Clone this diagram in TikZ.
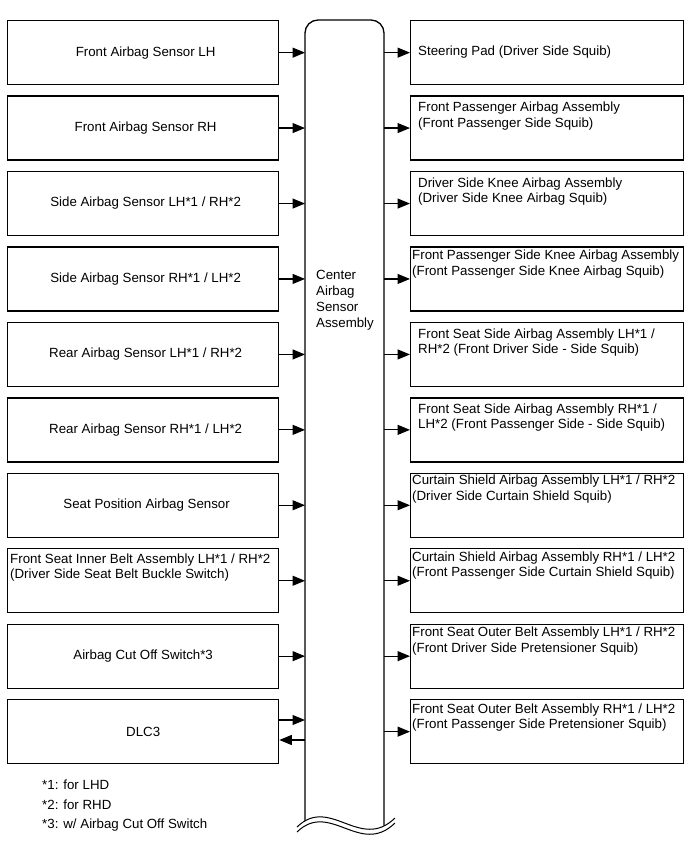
\documentclass[tikz,border=0pt]{standalone}
\usepackage{fontspec}
\setmainfont{Liberation Sans}
\usetikzlibrary{arrows.meta,calc}
\newcommand{\firstl}{\rule{0pt}{10pt}}
\begin{document}
\begin{tikzpicture}[x=1pt,y=-1pt,
  txt/.style={font=\fontsize{13.3}{15.5}\selectfont},
  box/.style={draw,line width=1.3pt,rectangle,minimum width=271pt,minimum height=64pt,inner sep=0pt,anchor=north west,txt},
  rbox/.style={box,minimum width=273pt},
  rtext/.style={anchor=north west,inner sep=0pt,align=left,txt},
  conn/.style={line width=1.2pt,-{Triangle[length=12.5pt,width=10pt]}},
]
\useasboundingbox[fill=white] (0,0) rectangle (690,854);

% left boxes
\node[box] (l1) at (7,20) {\hspace{5pt}Front Airbag Sensor LH};
\node[box] (l2) at (7,95.4) {\hspace{5pt}Front Airbag Sensor RH};
\node[box] (l3) at (7,170.9) {\hspace{5pt}Side Airbag Sensor LH*1 / RH*2};
\node[box] (l4) at (7,246.3) {\hspace{5pt}Side Airbag Sensor RH*1 / LH*2};
\node[box] (l5) at (7,321.8) {\hspace{5pt}Rear Airbag Sensor LH*1 / RH*2};
\node[box] (l6) at (7,397.2) {\hspace{5pt}Rear Airbag Sensor RH*1 / LH*2};
\node[box] (l7) at (7,472.6) {\hspace{7pt}Seat Position Airbag Sensor};
\node[box] (l8) at (7,548.1) {};
\node[rtext] (l8t) at (10,553.1) {\firstl Front Seat Inner Belt Assembly LH*1 / RH*2\\(Driver Side Seat Belt Buckle Switch)};
\node[box] (l9) at (7,623.5) {Airbag Cut Off Switch*3\hspace{27pt}};
\node[box] (l10) at (7,699) {DLC3\hspace{11pt}};

% right boxes
\node[rbox] (r1) at (410,20) {};
\node[rbox] (r2) at (410,95.4) {};
\node[rbox] (r3) at (410,170.9) {};
\node[rbox] (r4) at (410,246.3) {};
\node[rbox] (r5) at (410,321.8) {};
\node[rbox] (r6) at (410,397.2) {};
\node[rbox] (r7) at (410,472.6) {};
\node[rbox] (r8) at (410,548.1) {};
\node[rbox] (r9) at (410,623.5) {};
\node[rbox] (r10) at (410,699) {};

\node[txt,anchor=west,inner sep=0pt] (r1t) at (418,52) {Steering Pad (Driver Side Squib)};
\node[rtext] (r2t) at (418,101.4) {\firstl Front Passenger Airbag Assembly\\(Front Passenger Side Squib)};
\node[rtext] (r3t) at (418,176.9) {\firstl Driver Side Knee Airbag Assembly\\(Driver Side Knee Airbag Squib)};
\node[rtext] (r4t) at (412,249.3) {\firstl Front Passenger Side Knee Airbag Assembly\\(Front Passenger Side Knee Airbag Squib)};
\node[rtext] (r5t) at (418,327.8) {\firstl Front Seat Side Airbag Assembly LH*1 /\\RH*2 (Front Driver Side - Side Squib)};
\node[rtext] (r6t) at (418,403.2) {\firstl Front Seat Side Airbag Assembly RH*1 /\\LH*2 (Front Passenger Side - Side Squib)};
\node[rtext] (r7t) at (412,474.6) {\firstl Curtain Shield Airbag Assembly LH*1 / RH*2\\(Driver Side Curtain Shield Squib)};
\node[rtext] (r8t) at (412,551.1) {\firstl Curtain Shield Airbag Assembly RH*1 / LH*2\\(Front Passenger Side Curtain Shield Squib)};
\node[rtext] (r9t) at (412,626.5) {\firstl Front Seat Outer Belt Assembly LH*1 / RH*2\\(Front Driver Side Pretensioner Squib)};
\node[rtext] (r10t) at (412,703) {\firstl Front Seat Outer Belt Assembly RH*1 / LH*2\\(Front Passenger Side Pretensioner Squib)};

% center column
\coordinate (colL) at (305,821);
\coordinate (colR) at (384,825.6);
\draw[line width=1.3pt,rounded corners=13pt] (colL) -- (305,20) -- (384,20) -- (colR);
\draw[line width=1pt] (297,827) .. controls (330,795) and (360,852) .. (395,818);
\draw[line width=1pt] (297,832) .. controls (330,800) and (360,857) .. (395,823);
\node[rtext,font=\fontsize{13.3}{16}\selectfont] (ct) at (316,269) {\firstl Center\\Airbag\\Sensor\\Assembly};

% connectors left
\foreach \i in {1,...,9} {
  \draw[conn] (l\i.east) -- (l\i.east -| colL);
}
\coordinate (d1) at (305,720);
\coordinate (d2) at (305,740);
\draw[conn] (l10.east |- d1) -- (d1);
\draw[conn] (d2) -- (l10.east |- d2);

% connectors right
\foreach \i in {1,...,10} {
  \draw[conn] (r\i.west -| colR) -- (r\i.west);
}

% footnotes
\node[txt,anchor=base west,inner sep=0pt] (f1) at (42,789) {*1: for LHD};
\node[txt,anchor=base west,inner sep=0pt] (f2) at (42,809) {*2: for RHD};
\node[txt,anchor=base west,inner sep=0pt] (f3) at (42,828) {*3: w/ Airbag Cut Off Switch};
\end{tikzpicture}
\end{document}
